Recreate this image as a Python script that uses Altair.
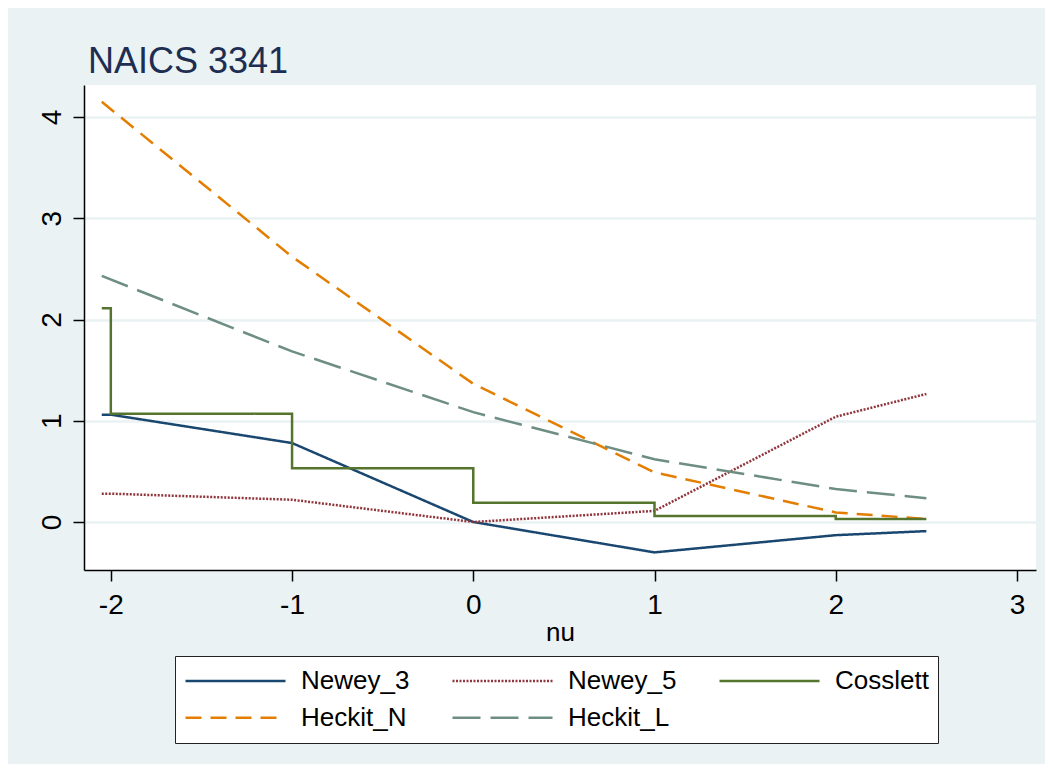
import altair as alt
import pandas as pd

# ---- data ----
series_order = ["Newey_3", "Newey_5", "Cosslett", "Heckit_N", "Heckit_L"]
series_colors = ["#1a476f", "#90353b", "#55752f", "#e37e00", "#6e8e84"]
series_dashes = [[1, 0], [2, 1.5], [1, 0], [16, 9], [28, 10]]

nu_newey = [-2.05, -2, -1, 0, 1, 2, 2.5]
newey_3 = [1.06, 1.06, 0.78, 0.0, -0.30, -0.13, -0.09]
newey_5 = [0.28, 0.28, 0.22, 0.0, 0.11, 1.04, 1.265]

nu_cosslett = [-2.05, -2, -1, 0, 1, 2, 2.5]
cosslett = [2.11, 1.07, 0.53, 0.19, 0.06, 0.03, 0.03]

nu_heckit = [-2.05, -1, 0, 1, 2, 2.5]
heckit_n = [4.15, 2.62, 1.365, 0.49, 0.095, 0.03]
heckit_l = [2.43, 1.685, 1.085, 0.62, 0.326, 0.234]

x_ticks = [-2, -1, 0, 1, 2, 3]
y_ticks = [0, 1, 2, 3, 4]

rows = []
for name, xs, ys in [("Newey_3", nu_newey, newey_3),
                     ("Newey_5", nu_newey, newey_5),
                     ("Heckit_N", nu_heckit, heckit_n),
                     ("Heckit_L", nu_heckit, heckit_l)]:
    for x, y in zip(xs, ys):
        rows.append({"series": name, "nu": x, "value": y})
smooth_df = pd.DataFrame(rows)
step_df = pd.DataFrame({"series": "Cosslett", "nu": nu_cosslett, "value": cosslett})

BG = "#eaf2f3"
FONT = "Liberation Sans"

x_enc = alt.X("nu:Q",
              scale=alt.Scale(domain=[-2.148, 3.105], nice=False, zero=False),
              axis=alt.Axis(values=x_ticks, title="nu", grid=False,
                            labelExpr="datum.value", labelFontSize=28,
                            labelPadding=10, titleFontSize=26, titlePadding=0,
                            tickSize=11))
y_enc = alt.Y("value:Q",
              scale=alt.Scale(domain=[-0.474, 4.316], nice=False, zero=False),
              axis=alt.Axis(values=y_ticks, title=None, grid=True,
                            gridColor=BG, gridWidth=2.5,
                            labelExpr="datum.value", labelFontSize=28,
                            labelAngle=270, labelAlign="center",
                            labelBaseline="alphabetic", labelPadding=13,
                            tickSize=11))
color_enc = alt.Color("series:N",
                      scale=alt.Scale(domain=series_order, range=series_colors),
                      sort=series_order,
                      legend=alt.Legend(title=None, orient="none",
                                        direction="horizontal",
                                        legendX=91, legendY=571,
                                        columns=3, symbolType="stroke",
                                        symbolSize=10000, symbolStrokeWidth=2.5,
                                        clipHeight=32, rowPadding=4.7,
                                        columnPadding=41, gridAlign="all",
                                        labelFontSize=26, labelOffset=14,
                                        labelFont=FONT, labelColor="black",
                                        padding=9, strokeColor="#222222",
                                        fillColor="white"))
dash_enc = alt.StrokeDash("series:N",
                          scale=alt.Scale(domain=series_order, range=series_dashes),
                          sort=series_order, legend=None)

smooth = alt.Chart(smooth_df).mark_line(strokeWidth=2.5).encode(
    x=x_enc, y=y_enc, color=color_enc, strokeDash=dash_enc, detail="series:N")
step = alt.Chart(step_df).mark_line(strokeWidth=2.5, interpolate="step-after").encode(
    x=x_enc, y=y_enc, color=color_enc, strokeDash=dash_enc)

chart = alt.layer(smooth, step).properties(
    width=952, height=485,
    padding={"left": 76, "top": 77, "right": 9, "bottom": 194},
    autosize=alt.AutoSizeParams(type="none"),
    title=alt.TitleParams("NAICS 3341", anchor="start", fontSize=36,
                          font=FONT, fontWeight="normal", color="#1e2d52",
                          frame="group", dx=4, dy=36, offset=12,
                          baseline="alphabetic"),
).configure(background=BG).configure_view(fill="white", stroke=None).configure_axis(
    domainColor="black", domainWidth=1.5, tickColor="black", tickWidth=1.5,
    labelFont=FONT, titleFont=FONT, labelColor="black", titleColor="black",
    titleFontWeight="normal")

chart.save("out.html", embed_options={"renderer": "svg", "actions": False})
